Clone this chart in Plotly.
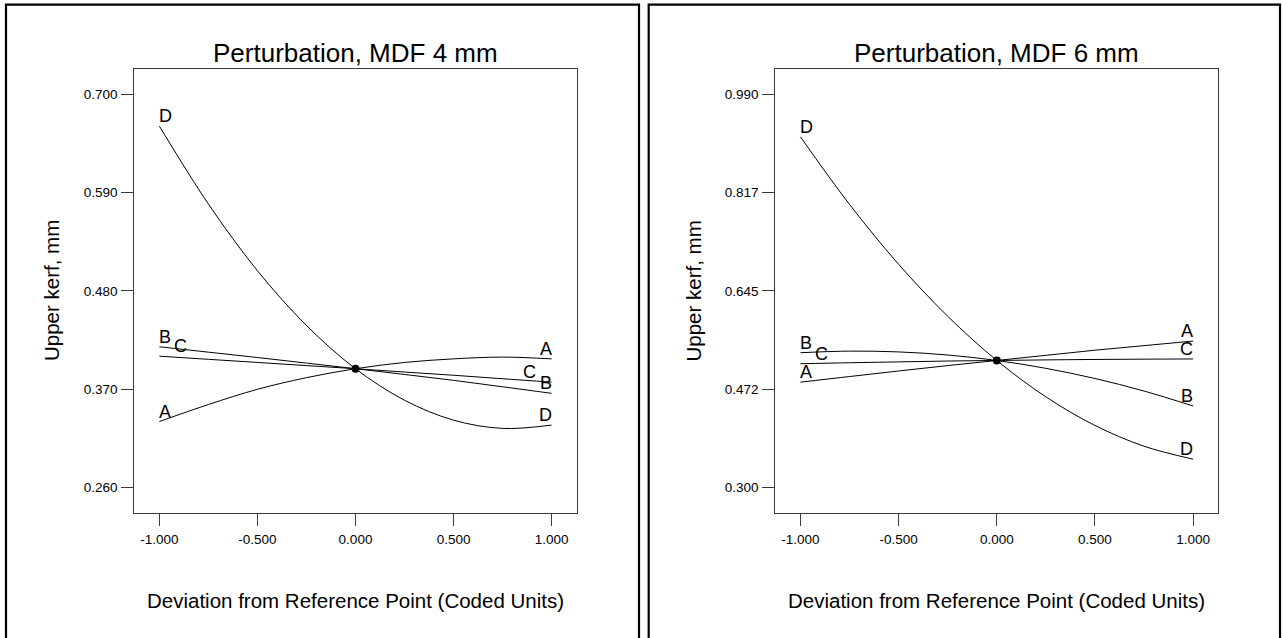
import plotly.graph_objects as go

# Coded deviation from the reference point
x_coded = [-1.0, -0.75, -0.5, -0.25, 0.0, 0.25, 0.5, 0.75, 1.0]

# Upper kerf (mm), MDF 4 mm
mdf4_A = [0.334, 0.353, 0.370, 0.383, 0.393, 0.400, 0.404, 0.406, 0.404]
mdf4_B = [0.4175, 0.4115, 0.4055, 0.3993, 0.393, 0.3866, 0.380, 0.3728, 0.3655]
mdf4_C = [0.407, 0.4035, 0.400, 0.3965, 0.393, 0.3893, 0.3857, 0.3818, 0.378]
mdf4_D = [0.664, 0.577, 0.5025, 0.4413, 0.393, 0.3578, 0.3355, 0.3263, 0.330]

# Upper kerf (mm), MDF 6 mm
mdf6_A = [0.485, 0.4948, 0.5046, 0.514, 0.523, 0.532, 0.541, 0.549, 0.557]
mdf6_B = [0.5366, 0.5394, 0.538, 0.5326, 0.523, 0.5092, 0.4914, 0.4694, 0.4432]
mdf6_C = [0.5173, 0.519, 0.5205, 0.522, 0.523, 0.524, 0.5248, 0.5253, 0.5256]
mdf6_D = [0.915, 0.7965, 0.6916, 0.6005, 0.523, 0.4592, 0.4091, 0.3727, 0.350]

factor_names = ["A", "B", "C", "D"]

x_tickvals = [-1.0, -0.5, 0.0, 0.5, 1.0]
x_ticktext = ["-1.000", "-0.500", "0.000", "0.500", "1.000"]

mdf4_tickvals = [0.260, 0.370, 0.480, 0.590, 0.700]
mdf4_ticktext = ["0.260", "0.370", "0.480", "0.590", "0.700"]
mdf6_tickvals = [0.300, 0.4725, 0.645, 0.8175, 0.990]
mdf6_ticktext = ["0.300", "0.472", "0.645", "0.817", "0.990"]

titles = ["Perturbation, MDF 4 mm", "Perturbation, MDF 6 mm"]
x_title = "Deviation from Reference Point (Coded Units)"
y_title = "Upper kerf, mm"

W, H = 1283, 638
FONT = "Liberation Sans, Arial, sans-serif"

panels = [
    dict(series=[mdf4_A, mdf4_B, mdf4_C, mdf4_D], tv=mdf4_tickvals, tt=mdf4_ticktext,
         yrange=[0.2321, 0.7276], xdom=[134.3 / W, 576.7 / W], xa="x", ya="y",
         left_shift={"C": 15}, right_shift={"C": -16},
         frame=[6.0, 639.0], ytitle_x=51.0),
    dict(series=[mdf6_A, mdf6_B, mdf6_C, mdf6_D], tv=mdf6_tickvals, tt=mdf6_ticktext,
         yrange=[0.2562, 1.0333], xdom=[775.3 / W, 1218.3 / W], xa="x2", ya="y2",
         left_shift={"C": 15}, right_shift={},
         frame=[648.7, 1280.0], ytitle_x=692.5),
]

ydom = [1 - 512.7 / H, 1 - 69.3 / H]

fig = go.Figure()
annotations = []
shapes = []

for i, p in enumerate(panels):
    for name, vals in zip(factor_names, p["series"]):
        fig.add_trace(go.Scatter(
            x=x_coded, y=vals, mode="lines", xaxis=p["xa"], yaxis=p["ya"],
            line=dict(color="black", width=1, shape="spline", smoothing=1.0),
            showlegend=False, hoverinfo="skip"))
        # factor letters at both ends of each curve
        annotations.append(dict(
            x=x_coded[0], y=vals[0], xref=p["xa"], yref=p["ya"], text=name,
            showarrow=False, xanchor="left", yanchor="bottom",
            xshift=p["left_shift"].get(name, 0) - 2, yshift=-2,
            font=dict(family=FONT, size=18, color="black")))
        annotations.append(dict(
            x=x_coded[-1], y=vals[-1], xref=p["xa"], yref=p["ya"], text=name,
            showarrow=False, xanchor="right", yanchor="bottom",
            xshift=p["right_shift"].get(name, 0) + 2, yshift=-2,
            font=dict(family=FONT, size=18, color="black")))
    # reference point
    ref_idx = x_coded.index(0.0)
    fig.add_trace(go.Scatter(
        x=[x_coded[ref_idx]], y=[p["series"][0][ref_idx]], mode="markers",
        xaxis=p["xa"], yaxis=p["ya"],
        marker=dict(color="black", size=8), showlegend=False, hoverinfo="skip"))

    xc = (p["xdom"][0] + p["xdom"][1]) / 2
    annotations.append(dict(
        x=xc, y=1 - 53 / H, xref="paper", yref="paper", text=titles[i],
        showarrow=False, xanchor="center", yanchor="middle",
        font=dict(family=FONT, size=26, color="black")))
    annotations.append(dict(
        x=xc, y=1 - 600 / H, xref="paper", yref="paper", text=x_title,
        showarrow=False, xanchor="center", yanchor="middle",
        font=dict(family=FONT, size=20.5, color="black")))
    annotations.append(dict(
        x=p["ytitle_x"] / W, y=(ydom[0] + ydom[1]) / 2, xref="paper", yref="paper",
        text=y_title, textangle=-90, showarrow=False,
        xanchor="center", yanchor="middle",
        font=dict(family=FONT, size=20.5, color="black")))

    # outer panel frame (open at the bottom edge of the page)
    x0, x1 = p["frame"]
    shapes.append(dict(type="path", xref="paper", yref="paper",
                       path=f"M {x0 / W},-0.05 L {x0 / W},{1 - 4.7 / H} "
                            f"L {x1 / W},{1 - 4.7 / H} L {x1 / W},-0.05",
                       line=dict(color="black", width=2.2)))

axis_common = dict(showgrid=False, zeroline=False, showline=True, mirror=True,
                   linecolor="#3a3a3a", linewidth=1, ticks="outside",
                   tickcolor="#3a3a3a", tickwidth=1,
                   tickfont=dict(family=FONT, size=13.5, color="black"))

layout = dict(
    width=W, height=H, margin=dict(l=0, r=0, t=0, b=0),
    paper_bgcolor="white", plot_bgcolor="white",
    annotations=annotations, shapes=shapes, showlegend=False,
)
for i, p in enumerate(panels):
    sfx = "" if i == 0 else "2"
    layout["xaxis" + sfx] = dict(axis_common, domain=p["xdom"], range=[-1.128, 1.128],
                                 tickvals=x_tickvals, ticktext=x_ticktext,
                                 ticklen=12, ticklabelstandoff=2, anchor="y" + sfx)
    layout["yaxis" + sfx] = dict(axis_common, domain=ydom, range=p["yrange"],
                                 tickvals=p["tv"], ticktext=p["tt"],
                                 ticklen=12, ticklabelstandoff=1, anchor="x" + sfx)

fig.update_layout(**layout)
fig.write_html("out.html")
